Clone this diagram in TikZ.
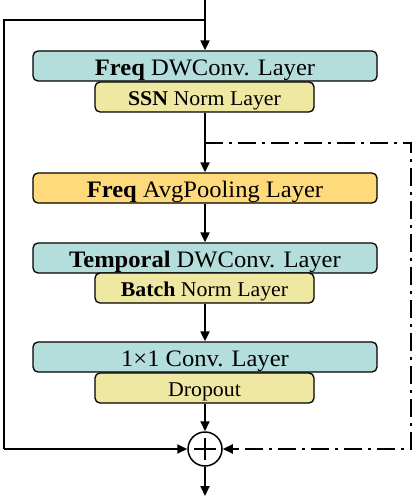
\documentclass[tikz,border=0pt]{standalone}
\usepackage{fontspec}
\usepackage{graphicx}
\setmainfont{Liberation Serif}
\usetikzlibrary{arrows.meta}
\definecolor{tealbox}{RGB}{179,222,219}
\definecolor{yelbox}{RGB}{238,232,162}
\definecolor{orbox}{RGB}{255,218,123}
\newcommand{\tx}[1]{\scalebox{1.04}[1]{#1}}
\begin{document}
\begin{tikzpicture}[x=1pt,y=-1pt,
  layer/.style={draw=black, line width=1.3pt, rounded corners=5pt, inner sep=0pt,
    minimum width=344pt, minimum height=30pt, text height=18.5pt, text depth=0pt,
    font=\fontsize{23.6}{26}\selectfont},
  sub/.style={draw=black, line width=1.3pt, rounded corners=5pt, inner sep=0pt,
    minimum width=219pt, minimum height=30pt, text height=17pt, text depth=0pt,
    fill=yelbox, font=\fontsize{21}{24}\selectfont},
  conn/.style={line width=2pt, -{Triangle[length=10pt,width=9pt]}},
  plain/.style={line width=2pt},
  dd/.style={line width=2pt, dash pattern=on 18pt off 6pt on 3pt off 6pt}
]
\useasboundingbox (0,0) rectangle (416,497);

\coordinate (top) at (205,0);
\coordinate (split1) at (205,20);
\coordinate (lc1) at (4,20);
\coordinate (lc2) at (4,449);

\node[layer, fill=tealbox] (fdw) at (205,66) {\tx{\textbf{Freq} DWConv. Layer}};
\node[sub] (ssn) at (204.5,97) {\tx{\textbf{SSN} Norm Layer}};
\coordinate (split2) at (205,143);
\coordinate (rc1) at (411,143);
\coordinate (rc2) at (411,449);
\node[layer, fill=orbox] (pool) at (205,188) {\tx{\textbf{Freq} AvgPooling Layer}};
\node[layer, fill=tealbox] (tdw) at (205,258) {\tx{\textbf{Temporal} DWConv. Layer}};
\node[sub] (bn) at (204.5,288) {\tx{\textbf{Batch} Norm Layer}};
\node[layer, fill=tealbox] (pw) at (205,357) {\tx{1×1 Conv. Layer}};
\node[sub] (drop) at (204.5,388) {\tx{Dropout}};
\node[draw=black, line width=1.5pt, circle, minimum size=34pt, inner sep=0pt, fill=white,
  path picture={\draw[line width=1.2pt] ([xshift=-11pt]path picture bounding box.center) -- ([xshift=11pt]path picture bounding box.center);
  \draw[line width=1.2pt] ([yshift=-11pt]path picture bounding box.center) -- ([yshift=11pt]path picture bounding box.center);}]
  (add) at (205,449) {};
\coordinate (out) at (205,496);

\draw[plain] (top) -- (split1);
\draw[conn] (split1) -- (fdw.north);
\draw[plain] (split1) -- (lc1) -- (lc2);
\draw[conn] (lc2) -- (add.west);
\draw[plain] (ssn.south -| split2) -- (split2);
\draw[conn] (split2) -- (pool.north);
\draw[dd] (split2) -- (rc1) -- (rc2) -- ([xshift=12pt]add.east);
\draw[conn] ([xshift=13pt]add.east) -- (add.east);
\draw[conn] (pool.south) -- (tdw.north);
\draw[conn] (bn.south -| pw.north) -- (pw.north);
\draw[conn] (drop.south -| add.north) -- (add.north);
\draw[conn] (add.south) -- (out);
\end{tikzpicture}
\end{document}
